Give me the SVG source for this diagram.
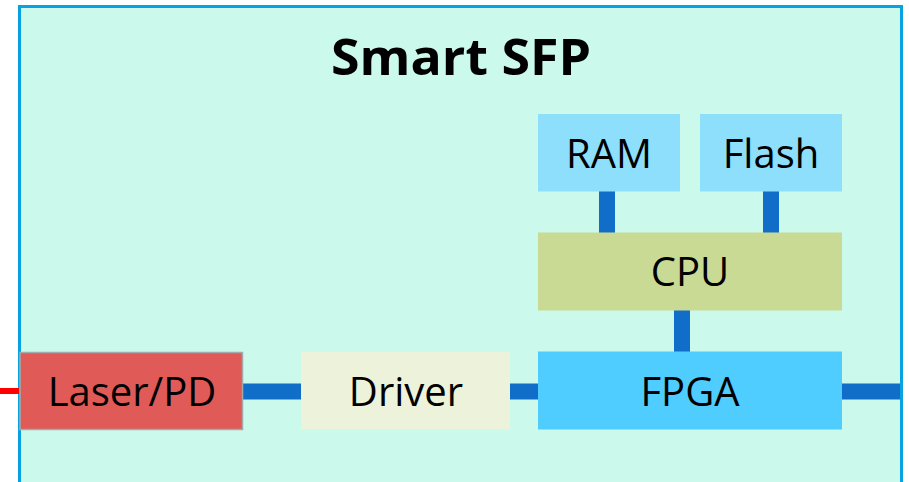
<svg xmlns="http://www.w3.org/2000/svg" width="909" height="482" viewBox="0 0 909 482">
<style>
.lbl{font-family:"Open Sans","Noto Sans","DejaVu Sans",sans-serif;font-size:40px;fill:#000;text-anchor:middle}
.ttl{font-family:"Open Sans","Noto Sans","DejaVu Sans",sans-serif;font-size:50px;font-weight:bold;fill:#000;text-anchor:middle}
.bus{stroke:#116ec8;stroke-width:16;fill:none}
</style>
<rect x="0" y="0" width="909" height="482" fill="#ffffff"/>
<g id="smart-sfp">
<rect x="19.5" y="6.5" width="882" height="490" fill="#cbf9eb" stroke="#08a2e0" stroke-width="3"/>
<text class="ttl" x="461" y="75" textLength="260" lengthAdjust="spacingAndGlyphs">Smart SFP</text>
</g>
<g id="connectors">
<line x1="0" y1="391" x2="19" y2="391" stroke="#ff0000" stroke-width="6"/>
<line class="bus" x1="242" y1="391.5" x2="302" y2="391.5"/>
<line class="bus" x1="510" y1="391.5" x2="538" y2="391.5"/>
<line class="bus" x1="842" y1="391.5" x2="900" y2="391.5"/>
<line class="bus" x1="607" y1="191" x2="607" y2="233"/>
<line class="bus" x1="771" y1="191" x2="771" y2="233"/>
<line class="bus" x1="682" y1="310" x2="682" y2="352"/>
</g>
<g id="laser-pd">
<rect x="20" y="352.5" width="222.5" height="77" fill="#e05a57" stroke="#a3aaa9" stroke-width="1.5"/>
<text class="lbl" x="132" y="406">Laser/PD</text>
</g>
<g id="driver">
<rect x="301" y="351.5" width="209" height="78" fill="#edf2da"/>
<text class="lbl" x="406" y="406">Driver</text>
</g>
<g id="fpga">
<rect x="538" y="351.5" width="304" height="78" fill="#4fcdff"/>
<text class="lbl" x="690" y="406">FPGA</text>
</g>
<g id="cpu">
<rect x="538" y="232.5" width="304" height="78" fill="#c9da94"/>
<text class="lbl" x="690" y="286">CPU</text>
</g>
<g id="ram">
<rect x="538" y="114" width="142" height="77.5" fill="#8ddffc"/>
<text class="lbl" x="609" y="168">RAM</text>
</g>
<g id="flash">
<rect x="700" y="114" width="142" height="77.5" fill="#8ddffc"/>
<text class="lbl" x="771" y="168">Flash</text>
</g>
</svg>
